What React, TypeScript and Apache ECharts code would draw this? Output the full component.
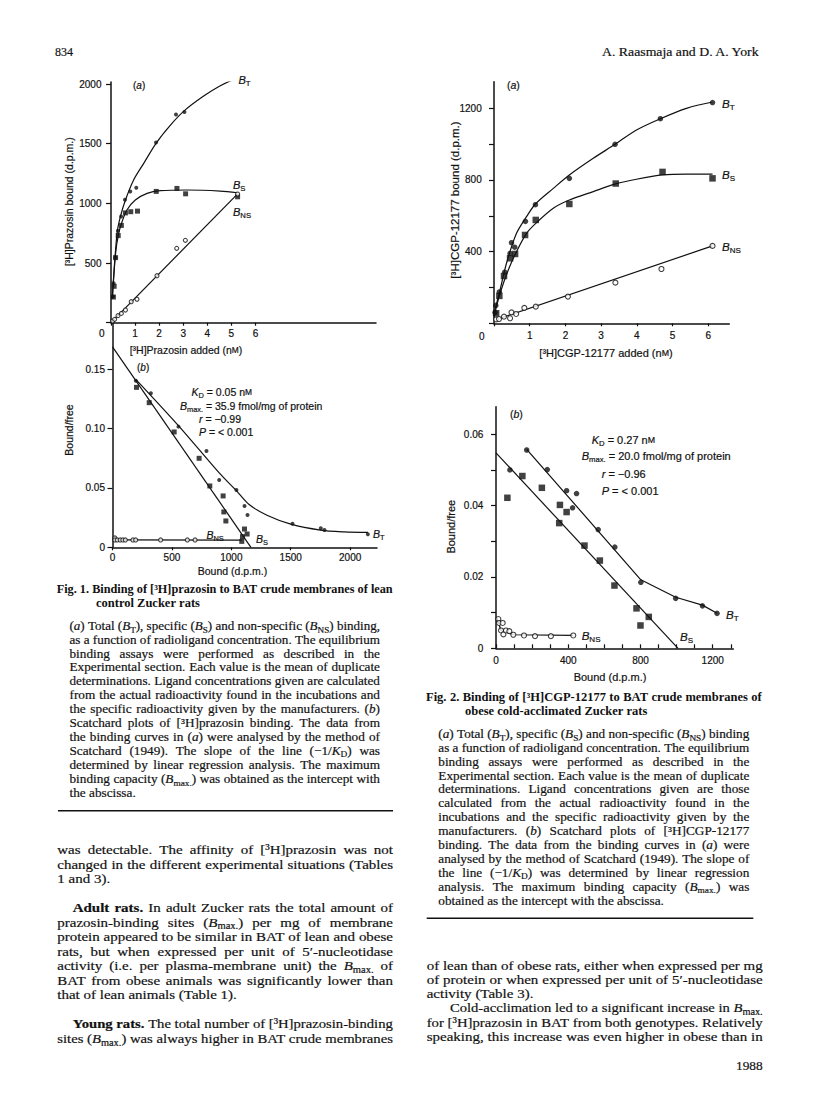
import React, { useEffect, useRef } from 'react';
import * as echarts from 'echarts';

type P = [number, number];

// ---------------- Fig. 1 (a): [3H]prazosin bound vs added (nM) ----------------
const fig1aTotal: P[] = [[0.08, 220], [0.11, 330], [0.18, 547], [0.29, 771], [0.42, 890], [0.58, 1030], [0.8, 1100], [1.05, 1130], [1.87, 1510], [2.7, 1745], [3.05, 1765], [5.2, 2050]];
const fig1aSpecific: P[] = [[0.1, 215], [0.13, 305], [0.19, 545], [0.3, 730], [0.43, 815], [0.6, 920], [0.82, 930], [1.1, 935], [1.88, 1100], [2.74, 1125], [3.1, 1080], [5.26, 1055]];
const fig1aNonSpecific: P[] = [[0.07, 14], [0.15, 28], [0.29, 59], [0.43, 78], [0.6, 106], [0.84, 176], [1.08, 196], [1.91, 394], [2.73, 623], [3.09, 690], [5.26, 1078]];
const fig1aTotalCurve: P[] = [[0.05, 200], [0.25, 749], [0.39, 888], [0.6, 1028], [0.94, 1196], [1.36, 1335], [1.87, 1503], [2.47, 1656], [3.05, 1777], [3.85, 1899], [4.54, 1986], [5.21, 2047]];
const fig1aSpecificCurve: P[] = [[0.06, 210], [0.19, 580], [0.32, 750], [0.46, 846], [0.66, 944], [1.01, 1028], [1.5, 1084], [2.05, 1106], [3.16, 1112], [4.54, 1103], [5.26, 1089]];
const fig1aNonSpecificLine: P[] = [[0, 0], [5.26, 1080]];
const fig1aXTicks = [0, 1, 2, 3, 4, 5, 6];
const fig1aXLabels = [1, 2, 3, 4, 5, 6];
const fig1aYTicks = [0, 500, 1000, 1500, 2000];
const fig1aYLabels = [500, 1000, 1500, 2000];

// ---------------- Fig. 1 (b): Scatchard, bound/free vs bound ----------------
const fig1bTotal: P[] = [[196, 0.1404], [323, 0.1298], [555, 0.1017], [791, 0.0812], [898, 0.0567], [1043, 0.0483], [1111, 0.0348], [1136, 0.0272], [1515, 0.0199], [1753, 0.016], [1784, 0.0146], [2149, 0.011]];
const fig1bSpecific: P[] = [[202, 0.1348], [309, 0.1219], [519, 0.0972], [729, 0.075], [819, 0.0517], [931, 0.0433], [937, 0.0298], [954, 0.0222], [1111, 0.0154], [1133, 0.0112], [1094, 0.009], [1088, 0.005]];
const fig1bNonSpecific: P[] = [[20, 0.0079], [20, 0.0062], [40, 0.0062], [65, 0.0062], [87, 0.0062], [108, 0.0062], [172, 0.0062], [195, 0.0062], [405, 0.0062], [630, 0.0062], [695, 0.0062]];
const fig1bTotalCurve: P[] = [[196, 0.1416], [560, 0.102], [900, 0.0625], [1040, 0.048], [1150, 0.036], [1300, 0.027], [1500, 0.0195], [1750, 0.0145], [1950, 0.013], [2150, 0.0125]];
const fig1bSpecificLine: P[] = [[0, 0.169], [1165, 0]];
const fig1bNonSpecificLine: P[] = [[20, 0.0062], [1088, 0.006]];
const fig1bXTicks = [0, 500, 1000, 1500, 2000];
const fig1bYTicks = [0, 0.05, 0.1, 0.15];

// ---------------- Fig. 2 (a): [3H]CGP-12177 bound vs added (nM) ----------------
const fig2aTotal: P[] = [[0.03, 60], [0.05, 100], [0.15, 175], [0.3, 285], [0.45, 390], [0.49, 450], [0.58, 425], [0.88, 569], [1.16, 662], [2.11, 809], [3.39, 999], [4.66, 1142], [6.12, 1232]];
const fig2aSpecific: P[] = [[0.06, 56], [0.15, 153], [0.28, 264], [0.45, 363], [0.59, 387], [0.87, 493], [1.17, 577], [2.11, 666], [3.41, 780], [4.72, 845], [6.12, 809]];
const fig2aNonSpecific: P[] = [[0.06, 22], [0.14, 24], [0.28, 37], [0.45, 28], [0.49, 61], [0.62, 52], [0.85, 86], [1.17, 93], [2.07, 149], [3.4, 227], [4.69, 303], [6.12, 432]];
const fig2aTotalCurve: P[] = [[0, 56], [0.17, 186], [0.35, 335], [0.63, 502], [0.91, 595], [1.16, 666], [1.66, 753], [2.11, 828], [2.78, 921], [3.39, 999], [3.99, 1079], [4.66, 1142], [5.39, 1200], [6.12, 1235]];
const fig2aSpecificCurve: P[] = [[0, 37], [0.17, 167], [0.4, 298], [0.63, 400], [0.91, 502], [1.17, 558], [1.66, 642], [2.11, 688], [2.78, 735], [3.41, 778], [3.99, 804], [4.72, 828], [5.39, 833], [6.12, 833]];
const fig2aNonSpecificLine: P[] = [[0.17, 28], [6.12, 432]];
const fig2aXTicks = [0, 1, 2, 3, 4, 5, 6];
const fig2aXLabels = [1, 2, 3, 4, 5, 6];
const fig2aYTicks = [0, 200, 400, 600, 800, 1000, 1200];
const fig2aYLabels = [400, 800, 1200];

// ---------------- Fig. 2 (b): Scatchard ----------------
const fig2bTotal: P[] = [[77, 0.05], [170, 0.0556], [284, 0.0501], [391, 0.0442], [424, 0.0394], [446, 0.0434], [566, 0.0333], [658, 0.0284], [802, 0.0185], [995, 0.014], [1143, 0.0119], [1224, 0.0098]];
const fig2bSpecific: P[] = [[63, 0.0422], [146, 0.0483], [254, 0.045], [350, 0.0351], [354, 0.0402], [391, 0.0382], [490, 0.0288], [575, 0.0246], [656, 0.0176], [778, 0.0112], [800, 0.0064], [846, 0.0088]];
const fig2bNonSpecific: P[] = [[13, 0.0082], [17, 0.0071], [37, 0.0071], [28, 0.005], [41, 0.0039], [55, 0.005], [74, 0.0048], [96, 0.0038], [155, 0.0036], [216, 0.0034], [304, 0.0034], [428, 0.0036]];
const fig2bTotalLine: P[] = [[170, 0.0558], [802, 0.0192], [995, 0.0143], [1143, 0.0121], [1224, 0.0098]];
const fig2bSpecificLine: P[] = [[0, 0.0548], [1008, 0]];
const fig2bNonSpecificLine: P[] = [[5, 0.0085], [28, 0.005], [96, 0.0038], [428, 0.0036]];
const fig2bXTicks = [0, 100, 200, 300, 400, 500, 600, 700, 800, 900, 1000, 1100, 1200, 1300];
const fig2bXLabels = [0, 400, 800, 1200];
const fig2bYTicks = [0, 0.01, 0.02, 0.03, 0.04, 0.05, 0.06];
const fig2bYLabels = [0, 0.02, 0.04, 0.06];

// ---------------- page text ----------------
type TL = [string, number, number, number | null]; // markup, left x, centre y, right x (null = ragged)

const fig1Title: TL[] = [
  ['Fig. 1. Binding of [³H]prazosin to BAT crude membranes of lean', 56.7, 589.3, 392.7],
  ['control Zucker rats', 96, 603.3, null],
];
const fig1Legend: TL[] = [
  ['({i|a}) Total ({i|B}{sub|T}), specific ({i|B}{sub|S}) and non-specific ({i|B}{sub|NS}) binding,', 69.5, 626.5, 380],
  ['as a function of radioligand concentration. The equilibrium', 69.5, 640.3, 380],
  ['binding assays were performed as described in the', 69.5, 654, 380],
  ['Experimental section. Each value is the mean of duplicate', 69.5, 667.6, 380],
  ['determinations. Ligand concentrations given are calculated', 69.5, 681.4, 380],
  ['from the actual radioactivity found in the incubations and', 69.5, 695.2, 380],
  ['the specific radioactivity given by the manufacturers. ({i|b})', 69.5, 709, 380],
  ['Scatchard plots of [³H]prazosin binding. The data from', 69.5, 722.8, 380],
  ['the binding curves in ({i|a}) were analysed by the method of', 69.5, 736.8, 380],
  ['Scatchard (1949). The slope of the line (−1/{i|K}{sub|D}) was', 69.5, 751, 380],
  ['determined by linear regression analysis. The maximum', 69.5, 765, 380],
  ['binding capacity ({i|B}{sub|max.}) was obtained as the intercept with', 69.5, 779.3, 380],
  ['the abscissa.', 69.5, 793.3, null],
];
const fig2Title: TL[] = [
  ['Fig. 2. Binding of [³H]CGP-12177 to BAT crude membranes of', 426, 697.3, 761.7],
  ['obese cold-acclimated Zucker rats', 465, 711, null],
];
const fig2Legend: TL[] = [
  ['({i|a}) Total ({i|B}{sub|T}), specific ({i|B}{sub|S}) and non-specific ({i|B}{sub|NS}) binding', 438.3, 734.3, 749.3],
  ['as a function of radioligand concentration. The equilibrium', 438.3, 748.2, 749.3],
  ['binding assays were performed as described in the', 438.3, 762, 749.3],
  ['Experimental section. Each value is the mean of duplicate', 438.3, 775.8, 749.3],
  ['determinations. Ligand concentrations given are those', 438.3, 789.5, 749.3],
  ['calculated from the actual radioactivity found in the', 438.3, 803.3, 749.3],
  ['incubations and the specific radioactivity given by the', 438.3, 817, 749.3],
  ['manufacturers. ({i|b}) Scatchard plots of [³H]CGP-12177', 438.3, 830.8, 749.3],
  ['binding. The data from the binding curves in ({i|a}) were', 438.3, 844.8, 749.3],
  ['analysed by the method of Scatchard (1949). The slope of', 438.3, 859, 749.3],
  ['the line (−1/{i|K}{sub|D}) was determined by linear regression', 438.3, 873, 749.3],
  ['analysis. The maximum binding capacity ({i|B}{sub|max.}) was', 438.3, 886.8, 749.3],
  ['obtained as the intercept with the abscissa.', 438.3, 900.7, null],
];
const bodyLeft: TL[] = [
  ['was detectable. The affinity of [³H]prazosin was not', 57.3, 849.3, 393],
  ['changed in the different experimental situations (Tables', 57.3, 864, 393],
  ['1 and 3).', 57.3, 878.3, null],
  ['{b|Adult} {b|rats.} In adult Zucker rats the total amount of', 72.7, 907.7, 393],
  ['prazosin-binding sites ({i|B}{sub|max.}) per mg of membrane', 57.3, 922, 393],
  ['protein appeared to be similar in BAT of lean and obese', 57.3, 936.7, 393],
  ['rats, but when expressed per unit of 5′-nucleotidase', 57.3, 951, 393],
  ['activity (i.e. per plasma-membrane unit) the {i|B}{sub|max.} of', 57.3, 965.7, 393],
  ['BAT from obese animals was significantly lower than', 57.3, 980, 393],
  ['that of lean animals (Table 1).', 57.3, 994.3, null],
  ['{b|Young} {b|rats.} The total number of [³H]prazosin-binding', 72.7, 1023.3, 393],
  ['sites ({i|B}{sub|max.}) was always higher in BAT crude membranes', 57.3, 1038.3, 393],
];
const bodyRight: TL[] = [
  ['of lean than of obese rats, either when expressed per mg', 426.7, 965, 762.7],
  ['of protein or when expressed per unit of 5′-nucleotidase', 426.7, 979.3, 762.7],
  ['activity (Table 3).', 426.7, 993.3, null],
  ['Cold-acclimation led to a significant increase in {i|B}{sub|max.}', 450, 1007.7, 762.7],
  ['for [³H]prazosin in BAT from both genotypes. Relatively', 426.7, 1022.3, 762.7],
  ['speaking, this increase was even higher in obese than in', 426.7, 1036.7, 762.7],
];

const SANS = "'Liberation Sans', Arial, Helvetica, sans-serif";
const SERIF = "'Liberation Serif', 'Times New Roman', Times, serif";
const INK = '#111111';

const subSize = (fs: number) => Math.round(fs * 0.7 * 10) / 10;
const scSize = (fs: number) => Math.round(fs * 0.8 * 10) / 10;

function richStyles(fam: string, fs: number, weight: string, sw: number) {
  const lh = Math.round(fs * 1.3);
  const ink = { fill: INK, stroke: INK, lineWidth: sw };
  return {
    i: { fontFamily: fam, fontSize: fs, fontStyle: 'italic', fontWeight: weight, lineHeight: lh, ...ink },
    b: { fontFamily: fam, fontSize: fs, fontStyle: 'normal', fontWeight: 'bold', lineHeight: lh, ...ink },
    sub: { fontFamily: fam, fontSize: subSize(fs), fontStyle: 'normal', fontWeight: weight, lineHeight: subSize(fs), verticalAlign: 'bottom', ...ink },
    sc: { fontFamily: fam, fontSize: scSize(fs), fontStyle: 'normal', fontWeight: weight, lineHeight: lh, ...ink },
  };
}

let ctx: CanvasRenderingContext2D | null = null;
function measure(markup: string, fam: string, fs: number, weight: string): number {
  if (!ctx) ctx = document.createElement('canvas').getContext('2d');
  const re = /\{(\w+)\|([^}]*)\}|([^{]+)/g;
  let m: RegExpExecArray | null;
  let w = 0;
  while ((m = re.exec(markup))) {
    let st = 'normal', wt = weight, size = fs, t = m[3];
    if (m[1]) {
      t = m[2];
      if (m[1] === 'i') st = 'italic';
      if (m[1] === 'b') wt = 'bold';
      if (m[1] === 'sub') size = subSize(fs);
      if (m[1] === 'sc') size = scSize(fs);
    }
    ctx!.font = `${st} ${wt} ${size}px ${fam}`;
    w += ctx!.measureText(t).width;
  }
  return w;
}

interface TO { fam?: string; fs?: number; weight?: string; align?: string; rot?: number; sx?: number; sw?: number }
function T(text: string, x: number, y: number, o: TO = {}) {
  const fam = o.fam ?? SANS, fs = o.fs ?? 10, weight = o.weight ?? 'normal';
  const sw = o.sw ?? (weight === 'bold' ? 0 : 0.2);
  return {
    type: 'text', x, y, rotation: o.rot ?? 0, scaleX: o.sx ?? 1, silent: true,
    style: {
      text, fontFamily: fam, fontSize: fs, fontWeight: weight, fontStyle: 'normal',
      fill: INK, stroke: INK, lineWidth: sw, align: o.align ?? 'left', verticalAlign: 'middle', lineHeight: Math.round(fs * 1.3),
      rich: richStyles(fam, fs, weight, sw),
    },
  };
}

function para(lines: TL[], fs: number, weight: string, s0: number, els: any[]) {
  const sp = measure(' ', SERIF, fs, weight);
  for (const [mk, x0, y, x1] of lines) {
    const words = mk.split(' ');
    const ws = words.map((w) => measure(w, SERIF, fs, weight));
    const sum = ws.reduce((a, b) => a + b, 0);
    let s = s0, gap = sp * s0;
    if (x1 != null && words.length > 1) {
      const target = x1 - x0;
      const nat = sum + sp * (words.length - 1);
      if (s0 * nat > target) { s = target / nat; gap = sp * s; }
      else gap = (target - s0 * sum) / (words.length - 1);
    }
    let x = x0;
    words.forEach((w, i) => {
      els.push(T(w, x, y, { fam: SERIF, fs, weight, sx: s }));
      x += ws[i] * s + gap;
    });
  }
}

function fit(mk: string, x0: number, x1: number, y: number, fs: number) {
  const w = measure(mk, SERIF, fs, 'normal');
  return T(mk, x0, y, { fam: SERIF, fs, sx: (x1 - x0) / w });
}

const axisLine = { show: true, onZero: false, lineStyle: { color: INK, width: 1.5 } };

function axis(gi: number, max: number, ticks: number[], labels: number[], o: { margin: number; tickLen: number; inside?: boolean; fmt?: (v: number) => string }) {
  return {
    type: 'value', gridIndex: gi, min: 0, max,
    axisLine,
    axisTick: { show: true, customValues: ticks, length: o.tickLen, inside: !!o.inside, lineStyle: { color: INK, width: 1.2 } },
    axisLabel: {
      show: true, customValues: labels, margin: o.margin, color: INK, fontSize: 10, fontFamily: SANS,
      textBorderColor: INK, textBorderWidth: 0.2,
      formatter: o.fmt ?? ((v: number) => String(v)),
    },
    splitLine: { show: false }, minorTick: { show: false }, minorSplitLine: { show: false },
  };
}

function scatter(data: P[], gi: number, kind: 'dot' | 'square' | 'open', size: number) {
  const base: any = { type: 'scatter', xAxisIndex: gi, yAxisIndex: gi, data, symbolSize: size, z: 4, silent: true };
  if (kind === 'dot') return { ...base, symbol: 'circle', itemStyle: { color: INK } };
  if (kind === 'square') return { ...base, symbol: 'rect', itemStyle: { color: INK } };
  return { ...base, symbol: 'circle', itemStyle: { color: '#fff', borderColor: INK, borderWidth: 1.1 } };
}
function curve(data: P[], gi: number, smooth: number | boolean) {
  return { type: 'line', xAxisIndex: gi, yAxisIndex: gi, data, smooth, showSymbol: false, symbol: 'none', lineStyle: { color: INK, width: 1.2 }, z: 3, silent: true };
}

const dec = (v: number) => (v === 0 ? '0' : v.toFixed(2));
const BT = '{i|B}{sub|T}', BS = '{i|B}{sub|S}', BNS = '{i|B}{sub|NS}';

function buildOption() {
  const els: any[] = [];
  // header
  els.push(fit('834', 55, 73, 52, 13));
  els.push(fit('A. Raasmaja and D. A. York', 602, 760, 52, 13));
  els.push(fit('1988', 736, 762.7, 1065.3, 13));

  // fig 1a texts
  els.push(T('0', 101.7, 333.3, { align: 'center' }));
  els.push(T('({i|a})', 133, 85, { fs: 10 }));
  els.push(T(BT, 238.5, 80, { fs: 11 }));
  els.push(T(BS, 233, 185, { fs: 11 }));
  els.push(T(BNS, 233, 212, { fs: 11 }));
  els.push(T('[³H]Prazosin added (n{sc|M})', 186, 350, { fs: 10.5, align: 'center' }));
  els.push(T('[³H]Prazosin bound (d.p.m.)', 69, 201.7, { fs: 10.5, align: 'center', rot: Math.PI / 2 }));
  // fig 1b texts
  els.push(T('({i|b})', 137, 367.5, { fs: 10 }));
  els.push(T('{i|K}{sub|D} = 0.05 n{sc|M}', 191.5, 391.7, { fs: 10.5 }));
  els.push(T('{i|B}{sub|max.} = 35.9 fmol/mg of protein', 180, 405.7, { fs: 10.5 }));
  els.push(T('{i|r} = −0.99', 199, 419, { fs: 10.5 }));
  els.push(T('{i|P} = < 0.001', 199, 432, { fs: 10.5 }));
  els.push(T(BNS, 206.5, 534.5, { fs: 10.5 }));
  els.push(T(BS, 256, 539, { fs: 10.5 }));
  els.push(T(BT, 373, 533.5, { fs: 10.5 }));
  els.push(T('Bound (d.p.m.)', 232.5, 571, { fs: 10.5, align: 'center' }));
  els.push(T('Bound/free', 69.3, 430, { fs: 10.5, align: 'center', rot: Math.PI / 2 }));
  // fig 2a texts
  els.push(T('0', 481.7, 336, { align: 'center' }));
  els.push(T('({i|a})', 507, 85, { fs: 10.5 }));
  els.push(T(BT, 722, 103.5, { fs: 11.5 }));
  els.push(T(BS, 722, 175, { fs: 11.5 }));
  els.push(T(BNS, 722, 247, { fs: 11.5 }));
  els.push(T('[³H]CGP-12177 added (n{sc|M})', 606, 353.3, { fs: 11, align: 'center' }));
  els.push(T('[³H]CGP-12177 bound (d.p.m.)', 455, 200, { fs: 11.5, align: 'center', rot: Math.PI / 2 }));
  // fig 2b texts
  els.push(T('({i|b})', 510, 413.5, { fs: 10.5 }));
  els.push(T('{i|K}{sub|D} = 0.27 n{sc|M}', 591.7, 440, { fs: 11 }));
  els.push(T('{i|B}{sub|max.} = 20.0 fmol/mg of protein', 581.7, 456, { fs: 11 }));
  els.push(T('{i|r} = −0.96', 601.7, 474, { fs: 11 }));
  els.push(T('{i|P} = < 0.001', 601.7, 490.7, { fs: 11 }));
  els.push(T(BT, 726, 615, { fs: 11.5 }));
  els.push(T(BNS, 581.7, 636, { fs: 11.5 }));
  els.push(T(BS, 680, 636.7, { fs: 11.5 }));
  els.push(T('Bound (d.p.m.)', 610, 676.7, { fs: 11, align: 'center' }));
  els.push(T('Bound/free', 450.7, 526.7, { fs: 11, align: 'center', rot: Math.PI / 2 }));

  // captions and body text
  para(fig1Title, 12.5, 'bold', 1.0, els);
  para(fig1Legend, 12.5, 'normal', 1.06, els);
  para(fig2Title, 12.5, 'bold', 1.0, els);
  para(fig2Legend, 12.5, 'normal', 1.06, els);
  para(bodyLeft, 13.5, 'normal', 1.11, els);
  para(bodyRight, 13.5, 'normal', 1.11, els);

  els.push({ type: 'line', silent: true, shape: { x1: 58, y1: 810.7, x2: 393, y2: 810.7 }, style: { stroke: INK, lineWidth: 1.5 } });
  els.push({ type: 'line', silent: true, shape: { x1: 426.7, y1: 918.3, x2: 753.3, y2: 918.3 }, style: { stroke: INK, lineWidth: 1.5 } });

  const grids = [
    { left: 111, top: 82, width: 265, height: 240.7 },
    { left: 112.5, top: 322.7, width: 264.5, height: 224.6 },
    { left: 494, top: 81.7, width: 235.3, height: 241.6 },
    { left: 496, top: 406.7, width: 237.3, height: 241.6 },
  ].map((g) => ({ ...g, show: false, containLabel: false, outerBoundsMode: 'none' }));

  return {
    animation: false,
    backgroundColor: '#ffffff',
    grid: grids,
    xAxis: [
      axis(0, 11.01, fig1aXTicks, fig1aXLabels, { margin: 6, tickLen: 3 }),
      axis(1, 2226, fig1bXTicks, fig1bXTicks, { margin: 5, tickLen: 3 }),
      axis(2, 6.59, fig2aXTicks, fig2aXLabels, { margin: 7, tickLen: 3 }),
      axis(3, 1314, fig2bXTicks, fig2bXLabels, { margin: 7.5, tickLen: 4, inside: true }),
    ],
    yAxis: [
      axis(0, 2016.8, fig1aYTicks, fig1aYLabels, { margin: 9.5, tickLen: 5 }),
      axis(1, 0.1893, fig1bYTicks, fig1bYTicks, { margin: 7.5, tickLen: 5, fmt: dec }),
      axis(2, 1348.5, fig2aYTicks, fig2aYLabels, { margin: 12.3, tickLen: 5 }),
      axis(3, 0.06774, fig2bYTicks, fig2bYLabels, { margin: 12.7, tickLen: 5, fmt: dec }),
    ],
    series: [
      curve(fig1aTotalCurve, 0, 0.3),
      curve(fig1aSpecificCurve, 0, 0.3),
      curve(fig1aNonSpecificLine, 0, false),
      scatter(fig1aTotal, 0, 'dot', 4),
      scatter(fig1aSpecific, 0, 'square', 5),
      scatter(fig1aNonSpecific, 0, 'open', 4),

      curve(fig1bTotalCurve, 1, 0.3),
      curve(fig1bSpecificLine, 1, false),
      curve(fig1bNonSpecificLine, 1, false),
      scatter(fig1bTotal, 1, 'dot', 4),
      scatter(fig1bSpecific, 1, 'square', 5),
      scatter(fig1bNonSpecific, 1, 'open', 4),

      curve(fig2aTotalCurve, 2, 0.3),
      curve(fig2aSpecificCurve, 2, 0.3),
      curve(fig2aNonSpecificLine, 2, false),
      scatter(fig2aTotal, 2, 'dot', 5.5),
      scatter(fig2aSpecific, 2, 'square', 6.5),
      scatter(fig2aNonSpecific, 2, 'open', 5),

      curve(fig2bTotalLine, 3, false),
      curve(fig2bSpecificLine, 3, false),
      curve(fig2bNonSpecificLine, 3, false),
      scatter(fig2bTotal, 3, 'dot', 5.5),
      scatter(fig2bSpecific, 3, 'square', 6.5),
      scatter(fig2bNonSpecific, 3, 'open', 5),
    ],
    graphic: { elements: els },
  };
}

export default function App() {
  const ref = useRef<HTMLDivElement>(null);
  useEffect(() => {
    const chart = echarts.init(ref.current!, null, { renderer: 'svg', width: 816, height: 1100 });
    chart.setOption(buildOption() as any);
    return () => chart.dispose();
  }, []);
  return <div ref={ref} style={{ position: 'absolute', left: 0, top: 0, width: 816, height: 1100, background: '#fff' }} />;
}
